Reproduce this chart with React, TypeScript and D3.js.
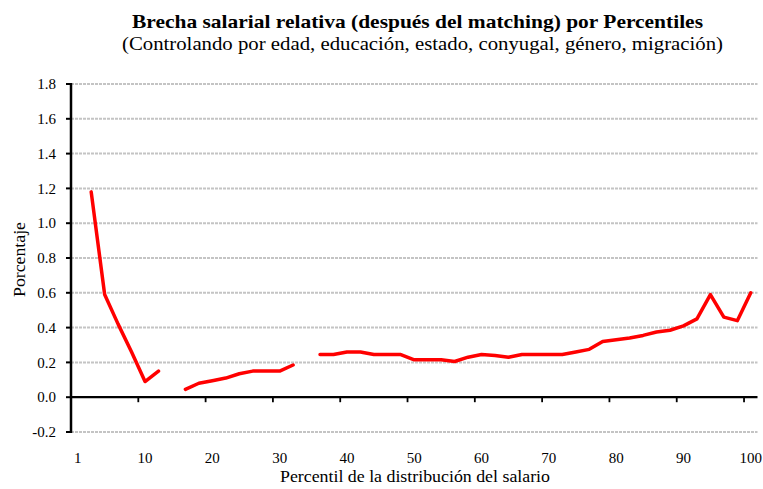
import React from 'react';
import * as d3 from 'd3';

// categories: 51 slots on a category axis (first slot labelled "1", then percentiles 2..100)
const percentiles = [
  1, 2, 4, 6, 8, 10, 12, 14, 16, 18, 20, 22, 24, 26, 28, 30, 32, 34, 36, 38, 40,
  42, 44, 46, 48, 50, 52, 54, 56, 58, 60, 62, 64, 66, 68, 70, 72, 74, 76, 78, 80,
  82, 84, 86, 88, 90, 92, 94, 96, 98, 100,
];

// brecha relativa, null = sin dato (corte en la linea)
const brecha: (number | null)[] = [
  null, 1.18, 0.59, 0.42, 0.26, 0.09, 0.15, null, 0.045, 0.08,
  0.095, 0.11, 0.135, 0.15, 0.15, 0.15, 0.185, null, 0.245, 0.245,
  0.26, 0.26, 0.245, 0.245, 0.245, 0.215, 0.215, 0.215, 0.205, 0.23,
  0.245, 0.24, 0.23, 0.245, 0.245, 0.245, 0.245, 0.26, 0.275, 0.32,
  0.33, 0.34, 0.355, 0.375, 0.385, 0.41, 0.45, 0.59, 0.46, 0.44,
  0.6,
];

const xTickLabels = ['1', '10', '20', '30', '40', '50', '60', '70', '80', '90', '100'];
const yTicks = [-0.2, 0, 0.2, 0.4, 0.6, 0.8, 1.0, 1.2, 1.4, 1.6, 1.8];

const title = 'Brecha salarial relativa (después del matching) por Percentiles';
const subtitle = '(Controlando por edad, educación, estado, conyugal, género, migración)';

const W = 763;
const H = 489;
const margin = { top: 84, right: 5.5, bottom: 57, left: 71 };
const FONT = '"Liberation Serif", "Times New Roman", serif';

const App = () => {
  const x = d3
    .scaleBand<number>()
    .domain(d3.range(percentiles.length))
    .range([margin.left, W - margin.right])
    .paddingInner(0)
    .paddingOuter(0);

  const y = d3
    .scaleLinear()
    .domain([-0.2, 1.8])
    .range([H - margin.bottom, margin.top]);

  const cx = (i: number) => (x(i) as number) + x.bandwidth() / 2;

  const line = d3
    .line<number | null>()
    .defined((d) => d !== null)
    .x((_, i) => cx(i))
    .y((d) => y(d as number));

  const labelIdx = xTickLabels.map((_, k) => k * 5);
  const tickIdx = d3.range(1, 11).map((k) => k * 5);

  return (
    <svg
      width={W}
      height={H}
      style={{ position: 'absolute', left: 0, top: 0, background: '#fff' }}
      fontFamily={FONT}
    >
      <text
        x={417.5}
        y={28}
        textAnchor="middle"
        fontSize={19}
        fontWeight="bold"
        textLength={571}
        lengthAdjust="spacingAndGlyphs"
      >
        {title}
      </text>
      <text
        x={422.5}
        y={50}
        textAnchor="middle"
        fontSize={18.5}
        textLength={601}
        lengthAdjust="spacingAndGlyphs"
      >
        {subtitle}
      </text>

      {/* gridlines */}
      {yTicks
        .filter((t) => t !== 0)
        .map((t) => (
          <line
            key={t}
            x1={margin.left}
            x2={W - margin.right}
            y1={y(t)}
            y2={y(t)}
            stroke="#c4c4c4"
            strokeWidth={2}
            strokeDasharray="3 1"
          />
        ))}

      {/* x axis at 0 */}
      <line x1={margin.left} x2={W - margin.right} y1={y(0)} y2={y(0)} stroke="#000" strokeWidth={2.2} />
      {tickIdx.map((i) => (
        <line key={i} x1={x(i)} x2={x(i)} y1={y(0)} y2={y(0) + 5} stroke="#000" strokeWidth={1.8} />
      ))}

      {/* y axis */}
      <line x1={margin.left} x2={margin.left} y1={y(1.8) - 1} y2={y(-0.2) + 1} stroke="#000" strokeWidth={2.5} />
      {yTicks.map((t) => (
        <g key={t}>
          <line x1={margin.left - 5} x2={margin.left} y1={y(t)} y2={y(t)} stroke="#000" strokeWidth={2} />
          <text x={margin.left - 15} y={y(t)} dy="0.35em" textAnchor="end" fontSize={15}>
            {t.toFixed(1)}
          </text>
        </g>
      ))}

      {/* x labels */}
      {labelIdx.map((i, k) => (
        <text key={i} x={cx(i)} y={463} textAnchor="middle" fontSize={15}>
          {xTickLabels[k]}
        </text>
      ))}

      <text
        x={415}
        y={482}
        textAnchor="middle"
        fontSize={17}
        textLength={270}
        lengthAdjust="spacingAndGlyphs"
      >
        Percentil de la distribución del salario
      </text>
      <text
        transform={`translate(25,259.5) rotate(-90)`}
        textAnchor="middle"
        fontSize={17}
        textLength={75}
        lengthAdjust="spacingAndGlyphs"
      >
        Porcentaje
      </text>

      <path
        d={line(brecha) || ''}
        fill="none"
        stroke="#ff0000"
        strokeWidth={3.5}
        strokeLinejoin="round"
        strokeLinecap="round"
      />
    </svg>
  );
};

export default App;
